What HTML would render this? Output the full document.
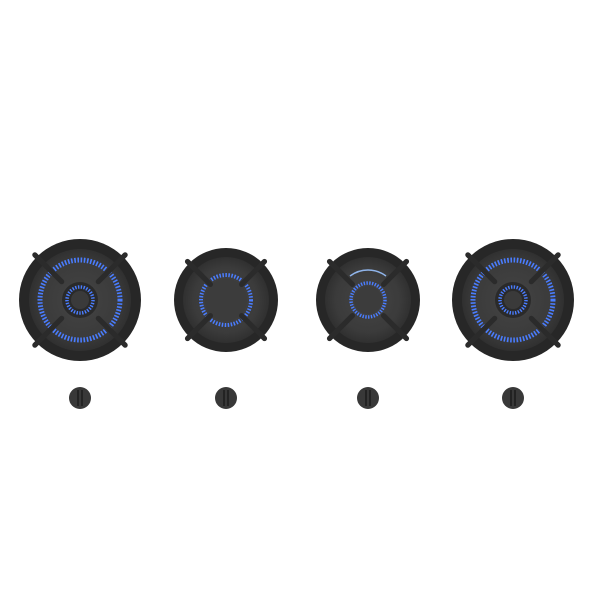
<!DOCTYPE html>
<html><head><style>html,body{margin:0;padding:0;background:#fff}svg{display:block}</style></head>
<body>
<svg width="600" height="600" viewBox="0 0 600 600" xmlns="http://www.w3.org/2000/svg">
<defs>
<radialGradient id="pan" cx="50%" cy="50%" r="50%">
<stop offset="0" stop-color="#444"/><stop offset="0.75" stop-color="#3b3b3b"/><stop offset="1" stop-color="#303030"/>
</radialGradient>
<g id="grate">
<line x1="-0.74" y1="-0.74" x2="-0.3" y2="-0.3" />
<line x1="0.74" y1="-0.74" x2="0.3" y2="-0.3" />
<line x1="-0.74" y1="0.74" x2="-0.3" y2="0.3" />
<line x1="0.74" y1="0.74" x2="0.3" y2="0.3" />
</g>
</defs>

<g transform="translate(80,300)">
<circle r="61" fill="#272727"/>
<circle r="51" fill="url(#pan)"/>
<circle r="40" fill="none" stroke="#4a7dff" stroke-width="5" stroke-dasharray="1.6 1.6"/>
<circle r="18" fill="#2a2a2a"/>
<circle r="13" fill="none" stroke="#4a7dff" stroke-width="3.5" stroke-dasharray="1.4 1.4"/>
<circle r="9" fill="#3a3a3a"/>
<g transform="scale(61)" stroke="#2b2b2b" stroke-width="0.085" stroke-linecap="round"><use href="#grate"/></g>
</g>

<g transform="translate(226,300)">
<circle r="52" fill="#272727"/>
<circle r="43" fill="url(#pan)"/>
<circle r="25" fill="none" stroke="#4a7dff" stroke-width="4" stroke-dasharray="1.5 1.5"/>
<circle r="21" fill="#3c3c3c"/>
<g transform="scale(52)" stroke="#2b2b2b" stroke-width="0.1" stroke-linecap="round"><use href="#grate"/></g>
</g>

<g transform="translate(368,300)">
<circle r="52" fill="#272727"/>
<circle r="43" fill="url(#pan)"/>
<path d="M-18,-24 A30 30 0 0 1 18,-24" fill="none" stroke="#8fb4ea" stroke-width="1.5"/>
<circle r="17" fill="none" stroke="#4a7dff" stroke-width="3.5" stroke-dasharray="1.4 1.4"/>
<circle r="14" fill="#3c3c3c"/>
<g transform="scale(52)" stroke="#2b2b2b" stroke-width="0.1" stroke-linecap="round"><use href="#grate"/></g>
</g>

<g transform="translate(513,300)">
<circle r="61" fill="#272727"/>
<circle r="51" fill="url(#pan)"/>
<circle r="40" fill="none" stroke="#4a7dff" stroke-width="5" stroke-dasharray="1.6 1.6"/>
<circle r="18" fill="#2a2a2a"/>
<circle r="13" fill="none" stroke="#4a7dff" stroke-width="3.5" stroke-dasharray="1.4 1.4"/>
<circle r="9" fill="#3a3a3a"/>
<g transform="scale(61)" stroke="#2b2b2b" stroke-width="0.085" stroke-linecap="round"><use href="#grate"/></g>
</g>

<g fill="#383838">
<circle cx="80" cy="398" r="11"/><circle cx="226" cy="398" r="11"/>
<circle cx="368" cy="398" r="11"/><circle cx="513" cy="398" r="11"/>
</g>
<g stroke="#1e1e1e" stroke-width="1.6">
<line x1="78" y1="390" x2="78" y2="406"/><line x1="82" y1="390" x2="82" y2="406"/>
<line x1="224" y1="390" x2="224" y2="406"/><line x1="228" y1="390" x2="228" y2="406"/>
<line x1="366" y1="390" x2="366" y2="406"/><line x1="370" y1="390" x2="370" y2="406"/>
<line x1="511" y1="390" x2="511" y2="406"/><line x1="515" y1="390" x2="515" y2="406"/>
</g>
</svg>
</body></html>
